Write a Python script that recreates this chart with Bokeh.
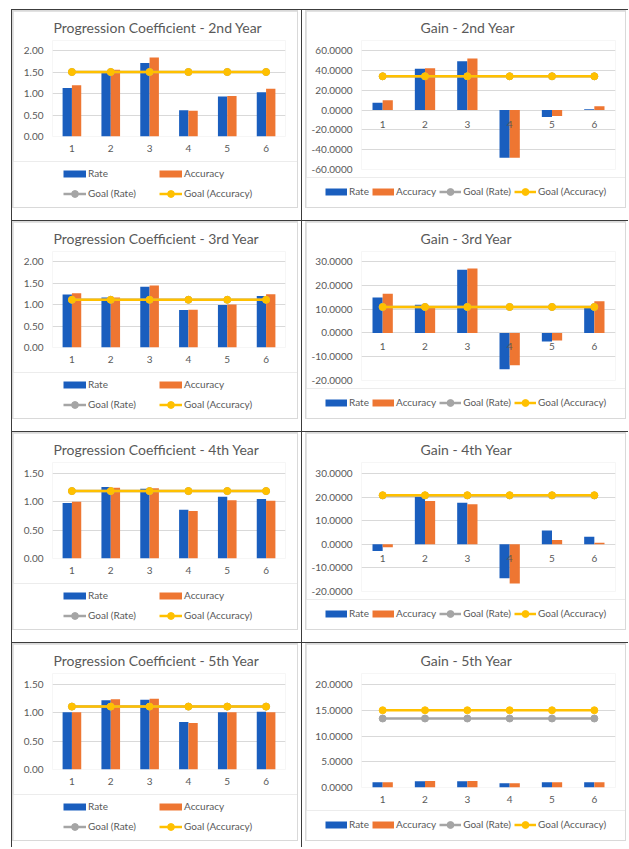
from bokeh.plotting import figure
from bokeh.models import (FactorRange, Range1d, FixedTicker, NumeralTickFormatter,
                          Legend, LegendItem, ColumnDataSource)
from bokeh.transform import dodge
from bokeh.layouts import column, row
from bokeh.core.properties import value
from bokeh.embed import file_html
from bokeh.resources import INLINE

# ---------------- data ----------------
categories = ["1", "2", "3", "4", "5", "6"]
series_names = ["Rate", "Accuracy", "Goal (Rate)", "Goal (Accuracy)"]

pc2_rate = [1.13, 1.51, 1.71, 0.61, 0.93, 1.03]
pc2_acc = [1.19, 1.55, 1.84, 0.60, 0.94, 1.11]
pc2_goal_rate = [1.50, 1.50, 1.50, 1.50, 1.50, 1.50]
pc2_goal_acc = [1.50, 1.50, 1.50, 1.50, 1.50, 1.50]

gain2_rate = [7.4, 41.5, 49.2, -48.2, -7.1, 0.7]
gain2_acc = [9.8, 42.1, 51.9, -48.2, -6.1, 3.7]
gain2_goal_rate = [34.0, 34.0, 34.0, 34.0, 34.0, 34.0]
gain2_goal_acc = [34.0, 34.0, 34.0, 34.0, 34.0, 34.0]

pc3_rate = [1.23, 1.16, 1.41, 0.87, 0.99, 1.20]
pc3_acc = [1.26, 1.16, 1.44, 0.88, 1.00, 1.24]
pc3_goal_rate = [1.11, 1.11, 1.11, 1.11, 1.11, 1.11]
pc3_goal_acc = [1.11, 1.11, 1.11, 1.11, 1.11, 1.11]

gain3_rate = [14.9, 11.8, 26.5, -15.3, -3.6, 10.7]
gain3_acc = [16.4, 10.8, 27.1, -13.6, -3.2, 13.3]
gain3_goal_rate = [10.9, 10.9, 10.9, 10.9, 10.9, 10.9]
gain3_goal_acc = [10.9, 10.9, 10.9, 10.9, 10.9, 10.9]

pc4_rate = [0.98, 1.26, 1.23, 0.86, 1.09, 1.05]
pc4_acc = [1.00, 1.25, 1.24, 0.84, 1.03, 1.02]
pc4_goal_rate = [1.19, 1.19, 1.19, 1.19, 1.19, 1.19]
pc4_goal_acc = [1.19, 1.19, 1.19, 1.19, 1.19, 1.19]

gain4_rate = [-2.8, 20.1, 17.6, -14.4, 5.9, 3.2]
gain4_acc = [-1.3, 18.3, 17.0, -16.6, 1.8, 0.7]
gain4_goal_rate = [20.7, 20.7, 20.7, 20.7, 20.7, 20.7]
gain4_goal_acc = [20.8, 20.8, 20.8, 20.8, 20.8, 20.8]

pc5_rate = [1.01, 1.22, 1.23, 0.84, 1.01, 1.02]
pc5_acc = [1.01, 1.24, 1.25, 0.82, 1.01, 1.01]
pc5_goal_rate = [1.11, 1.11, 1.11, 1.11, 1.11, 1.11]
pc5_goal_acc = [1.11, 1.11, 1.11, 1.11, 1.11, 1.11]

gain5_rate = [1.01, 1.22, 1.23, 0.84, 1.01, 1.02]
gain5_acc = [1.01, 1.24, 1.25, 0.82, 1.01, 1.01]
gain5_goal_rate = [13.4, 13.4, 13.4, 13.4, 13.4, 13.4]
gain5_goal_acc = [15.0, 15.0, 15.0, 15.0, 15.0, 15.0]

ticks_pc_2 = [0.0, 0.5, 1.0, 1.5, 2.0]
ticks_pc_15 = [0.0, 0.5, 1.0, 1.5]
ticks_gain_60 = [-60, -40, -20, 0, 20, 40, 60]
ticks_gain_30 = [-20, -10, 0, 10, 20, 30]
ticks_gain_20 = [0, 5, 10, 15, 20]

# ---------------- style ----------------
FONT = "Lato"
TXT = "#595959"
BLUE = "#1A5EBE"
ORANGE = "#EE7632"
GOLD = "#FFC000"
GRAY = "#A5A5A5"
GRID = "#D9D9D9"
TABLE = "#3C3C3C"
FRAME_TOP = 29          # plot-area top (title sits right above it)


def make_chart(title, rate, acc, goal_rate, goal_acc, ticks, fmt, side,
               data_top, data_bottom):
    if side == "L":
        W, Hm, Hl, fl, fr, toff = 284, 150, 46, 39, 272, 1
    else:
        W, Hm, Hl, fl, fr, toff = 319, 166, 30, 55, 309, 59
    neg = ticks[0] < 0
    ymin, ymax = ticks[0], ticks[-1]
    ppu = (data_bottom - data_top) / float(ymax - ymin)
    y_end = ymax + (data_top - FRAME_TOP) / ppu

    p = figure(x_range=FactorRange(*categories),
               y_range=Range1d(ymin, y_end),
               width=W, height=Hm, output_backend="svg", toolbar_location=None,
               x_axis_location=None if neg else "below",
               min_border_left=fl, min_border_right=W - fr,
               min_border_top=FRAME_TOP, min_border_bottom=Hm - data_bottom,
               title=title)
    p.frame_align = False
    p.title.align = "left"
    p.title.offset = toff
    p.title.text_font = FONT
    p.title.text_font_size = "14px"
    p.title.text_font_style = "normal"
    p.title.text_color = TXT
    p.outline_line_color = None
    p.background_fill_color = "white"
    p.border_fill_color = "white"

    src = ColumnDataSource(dict(cat=categories, rate=rate, acc=acc,
                                goal_rate=goal_rate, goal_acc=goal_acc))

    p.yaxis.ticker = FixedTicker(ticks=ticks)
    p.yaxis.formatter = NumeralTickFormatter(format=fmt)
    p.ygrid.ticker = FixedTicker(ticks=ticks)
    p.ygrid.grid_line_color = GRID
    p.ygrid.grid_line_width = 1
    p.xgrid.visible = False
    for ax in list(p.xaxis) + list(p.yaxis):
        ax.axis_line_color = None
        ax.major_tick_line_color = None
        ax.minor_tick_line_color = None
        ax.major_tick_out = 0
        ax.major_tick_in = 0
        ax.major_label_text_font = FONT
        ax.major_label_text_font_size = "10px"
        ax.major_label_text_color = TXT
    p.yaxis.major_label_standoff = 9
    for ax in p.xaxis:
        ax.major_label_standoff = 8

    p.vbar(x=dodge("cat", -0.12, range=p.x_range), top="rate", width=0.24,
           fill_color=BLUE, line_color=None, source=src)
    p.vbar(x=dodge("cat", 0.12, range=p.x_range), top="acc", width=0.24,
           fill_color=ORANGE, line_color=None, source=src)

    if neg:
        # category labels sit just under the zero line, as in the original
        p.text(x="cat", y=0, text="cat", source=src, y_offset=14,
               text_align="center", text_baseline="middle",
               text_font=value(FONT), text_font_size="10px", text_color=TXT)

    p.line(x="cat", y="goal_rate", line_color=GRAY, line_width=2.5, source=src)
    p.scatter(x="cat", y="goal_rate", size=7, fill_color=GRAY, line_color=GRAY, source=src)
    p.line(x="cat", y="goal_acc", line_color=GOLD, line_width=2.5, source=src)
    p.scatter(x="cat", y="goal_acc", size=7, fill_color=GOLD, line_color=GOLD, source=src)
    p.margin = (1, 1, 0, 1)

    # ---- legend strip: its own small figure showing the same series keys;
    #      its value range lies far away from the data so only the keys show ----
    q = figure(width=W, height=Hl, output_backend="svg", toolbar_location=None,
               x_range=FactorRange(*categories), y_range=Range1d(1e6, 1e6 + 1),
               x_axis_location=None, y_axis_location=None, min_border=0)
    q.frame_align = False
    q.xgrid.visible = False
    q.ygrid.visible = False
    q.outline_line_color = None
    q.background_fill_color = "white"
    q.border_fill_color = "white"
    kr = q.line(x="cat", y="rate", line_color=BLUE, line_width=7, source=src)
    ka = q.line(x="cat", y="acc", line_color=ORANGE, line_width=7, source=src)
    gl = q.line(x="cat", y="goal_rate", line_color=GRAY, line_width=2.5, source=src)
    gs = q.scatter(x="cat", y="goal_rate", size=7, fill_color=GRAY, line_color=GRAY, source=src)
    ol = q.line(x="cat", y="goal_acc", line_color=GOLD, line_width=2.5, source=src)
    os_ = q.scatter(x="cat", y="goal_acc", size=7, fill_color=GOLD, line_color=GOLD, source=src)
    items = [LegendItem(label=series_names[0], renderers=[kr]),
             LegendItem(label=series_names[1], renderers=[ka]),
             LegendItem(label=series_names[2], renderers=[gl, gs]),
             LegendItem(label=series_names[3], renderers=[ol, os_])]
    if side == "L":
        leg = Legend(items=items, orientation="horizontal", ncols=2,
                     location=(50, 5.5),
                     glyph_width=23, glyph_height=17, label_height=17,
                     label_standoff=2, label_width=68, spacing=3)
    else:
        leg = Legend(items=items, orientation="horizontal",
                     location=(19, 7.5),
                     glyph_width=22, glyph_height=17, label_height=17,
                     label_standoff=2, spacing=3)
    leg.padding = 0
    leg.margin = 0
    leg.border_line_color = None
    leg.background_fill_alpha = 0
    leg.label_text_font = FONT
    leg.label_text_font_size = "10px"
    leg.label_text_color = TXT
    q.add_layout(leg)
    q.margin = (0, 1, 1, 1)
    return p, q


specs = [
    (("Progression Coefficient - 2nd Year", pc2_rate, pc2_acc, pc2_goal_rate, pc2_goal_acc,
      ticks_pc_2, "0.00", "L", 39, 125),
     ("Gain - 2nd Year", gain2_rate, gain2_acc, gain2_goal_rate, gain2_goal_acc,
      ticks_gain_60, "0.0000", "R", 39, 158)),
    (("Progression Coefficient - 3rd Year", pc3_rate, pc3_acc, pc3_goal_rate, pc3_goal_acc,
      ticks_pc_2, "0.00", "L", 39, 125),
     ("Gain - 3rd Year", gain3_rate, gain3_acc, gain3_goal_rate, gain3_goal_acc,
      ticks_gain_30, "0.0000", "R", 39, 158)),
    (("Progression Coefficient - 4th Year", pc4_rate, pc4_acc, pc4_goal_rate, pc4_goal_acc,
      ticks_pc_15, "0.00", "L", 40, 125),
     ("Gain - 4th Year", gain4_rate, gain4_acc, gain4_goal_rate, gain4_goal_acc,
      ticks_gain_30, "0.0000", "R", 40, 158)),
    (("Progression Coefficient - 5th Year", pc5_rate, pc5_acc, pc5_goal_rate, pc5_goal_acc,
      ticks_pc_15, "0.00", "L", 40, 125),
     ("Gain - 5th Year", gain5_rate, gain5_acc, gain5_goal_rate, gain5_goal_acc,
      ticks_gain_20, "0.0000", "R", 40, 143)),
]

cell_style = {"border-left": "1px solid " + TABLE, "border-top": "1px solid " + TABLE,
              "background-color": "white"}
box_style = {"background-color": GRID}
rows = []
for i, (sl, sr_) in enumerate(specs):
    bottom = 12 if i < 3 else 6
    pl, ql = make_chart(*sl)
    pr_, qr = make_chart(*sr_)
    box_l = column(pl, ql, styles=box_style, margin=(0, 3, bottom, 0))
    box_r = column(pr_, qr, styles=box_style, margin=(0, 2, bottom, 3))
    rows.append(row(column(box_l, styles=cell_style), column(box_r, styles=cell_style)))

layout = column(*rows, margin=(9, 0, 0, 11))

open("out.html", "w").write(file_html(layout, INLINE))
